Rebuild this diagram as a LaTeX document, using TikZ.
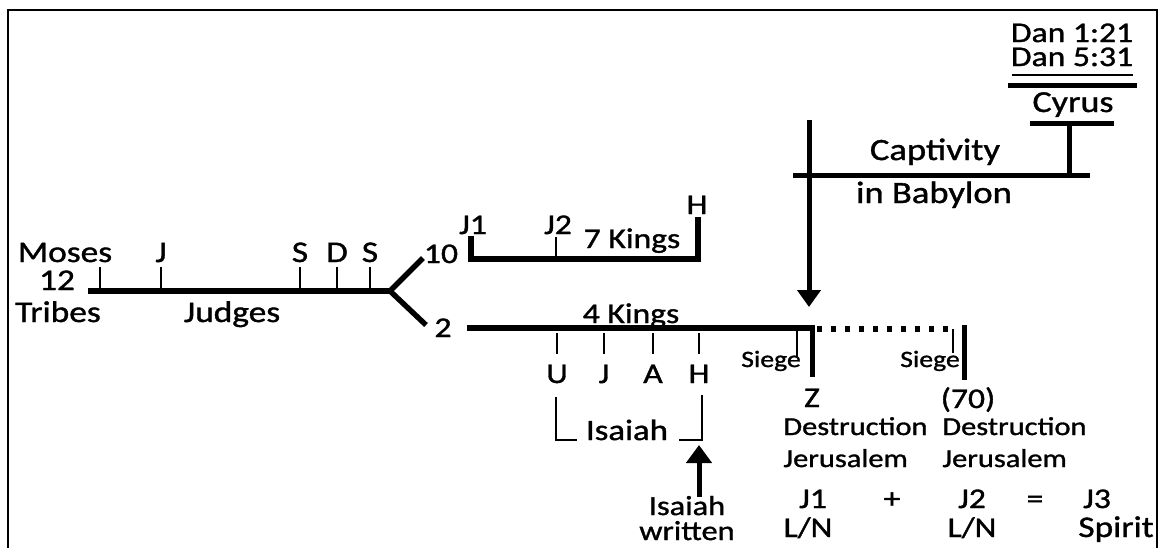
\documentclass[tikz,border=0pt]{standalone}
\usepackage{fontspec}
\setmainfont{Carlito}[FakeStretch=1.18,FakeBold=1.2]
\usetikzlibrary{arrows.meta}
\newcommand{\fsz}[1]{\fontsize{#1}{#1}\selectfont}
\tikzset{
  lbl/.style={anchor=base, inner sep=0pt, font=\fsz{14.25pt}},
  biglbl/.style={lbl, font=\fsz{15pt}},
  destlbl/.style={lbl, anchor=base west, font=\fsz{12.9pt}},
  smalllbl/.style={anchor=base, inner sep=0pt, font=\fsz{11.75pt}},
  midlbl/.style={anchor=base, inner sep=0pt, font=\fsz{13.75pt}},
  bar/.style={line width=2.5pt},
  mainbar/.style={line width=3.3pt},
  tickline/.style={line width=1pt},
  frameline/.style={line width=1.25pt},
  bigarrow/.style={line width=2.5pt, -{Triangle[width=12pt,length=9pt]}},
}
\begin{document}
\begin{tikzpicture}[x=0.5pt,y=-0.5pt]
\useasboundingbox (0,0) rectangle (1162,548);
% frame (open at bottom)
\coordinate (fbl) at (8,548);
\coordinate (ftl) at (8,10);
\coordinate (ftr) at (1157,10);
\coordinate (fbr) at (1157,548);
\draw[frameline] (fbl) -- (ftl) -- (ftr) -- (fbr);

% ---- 12 tribes / judges line
\coordinate (m0) at (88,291);
\coordinate (m1) at (390,291);
\draw[mainbar] (m0) -- (m1);
\foreach \x/\n in {100/a,161/b,300/c,337/d,370/e}{
  \coordinate (jt\n top) at (\x,267);
  \coordinate (jt\n bot) at (\x,291);
  \draw[tickline] (jt\n top) -- (jt\n bot);
}
\node[biglbl] (moses) at (65,262) {Moses};
\node[biglbl] (twelve) at (57,290) {12};
\node[biglbl] (tribes) at (58,322) {Tribes};
\node[biglbl] (jdg) at (161,262) {J};
\node[biglbl] (sam1) at (300,262) {S};
\node[biglbl] (dav) at (337,262) {D};
\node[biglbl] (sol) at (370,262) {S};
\node[biglbl] (judges) at (232,322) {Judges};

% branch
\coordinate (b10) at (423,258);
\coordinate (b2) at (426,325);
\draw[bar, line width=2.7pt] (b10) -- (m1) -- (b2);
\node[lbl] (ten) at (441,263) {10};
\node[lbl] (two) at (443,337) {2};

% ---- northern kingdom: 7 kings
\coordinate (n0) at (471,236);
\coordinate (n1) at (471,259);
\coordinate (n2) at (698,259);
\coordinate (n3) at (698,217);
\draw[bar, line width=2.7pt] (n0) -- (n1) -- (n2) -- (n3);
\coordinate (j2top) at (556,237);
\coordinate (j2bot) at (556,259);
\draw[tickline] (j2top) -- (j2bot);
\node[lbl] (nj1) at (473,234) {J1};
\node[lbl] (nj2) at (558,234) {J2};
\node[lbl] (seven) at (632,248) {7 Kings};
\node[lbl] (nh) at (697,214) {H};

% ---- southern kingdom: 4 kings
\coordinate (s0) at (467,328);
\coordinate (s1) at (812,328);
\draw[line width=3.2pt] (s0) -- (s1);
\node[lbl] (four) at (631,323) {4 Kings};
\foreach \x/\n in {557/u,604/j,653/a,699/h}{
  \coordinate (st\n top) at (\x,333);
  \coordinate (st\n bot) at (\x,354);
  \draw[tickline] (st\n top) -- (st\n bot);
}
\node[lbl] (ku) at (557,383) {U};
\node[lbl] (kj) at (604,383) {J};
\node[lbl] (ka) at (653,383) {A};
\node[lbl] (kh) at (699,383) {H};

% siege 1 and destruction 1
\coordinate (sg1top) at (797,331);
\coordinate (sg1bot) at (797,357);
\draw[tickline] (sg1top) -- (sg1bot);
\coordinate (d1top) at (812,325);
\coordinate (d1bot) at (812,377);
\draw[bar] (d1top) -- (d1bot);
\node[smalllbl] (siege1) at (771,367) {Siege};

% dotted continuation
\coordinate (dt0) at (817,329);
\coordinate (dt1) at (950,329);
\draw[line width=2.6pt, dash pattern=on 2.5pt off 4.5pt] (dt0) -- (dt1);
\coordinate (sg2top) at (953,329);
\coordinate (sg2bot) at (953,353);
\draw[tickline] (sg2top) -- (sg2bot);
\coordinate (d2top) at (964,325);
\coordinate (d2bot) at (964,380);
\draw[bar] (d2top) -- (d2bot);
\node[smalllbl] (siege2) at (930,367) {Siege};

\node[lbl] (z) at (812,407) {Z};
\node[lbl] (seventy) at (968,408) {(70)};
\node[destlbl] (dest1) at (783,435) {Destruction};
\node[destlbl] (jer1) at (783,467) {Jerusalem};
\node[destlbl] (dest2) at (942,435) {Destruction};
\node[destlbl] (jer2) at (942,467) {Jerusalem};

\node[lbl] (eqj1) at (813,508) {J1};
\node[lbl] (eqln1) at (808,537) {L/N};
\node[lbl] (plus) at (892,508) {+};
\node[lbl] (eqj2) at (972,508) {J2};
\node[lbl] (eqln2) at (972,537) {L/N};
\node[lbl] (equals) at (1035,508) {=};
\node[lbl] (eqj3) at (1097,508) {J3};
\node[biglbl] (spirit) at (1116,537) {Spirit};

% Isaiah bracket
\coordinate (ib0) at (556,397);
\coordinate (ib1) at (556,440);
\coordinate (ib2) at (577,440);
\coordinate (ib3) at (679,440);
\coordinate (ib4) at (702,440);
\coordinate (ib5) at (702,395);
\draw[line width=1.2pt] (ib0) -- (ib1) -- (ib2);
\draw[line width=1.2pt] (ib3) -- (ib4) -- (ib5);
\node[lbl, font=\fsz{14.75pt}] (isaiah) at (627,440) {Isaiah};

% Isaiah written arrow
\node[midlbl] (isw1) at (687,515) {Isaiah};
\node[midlbl] (isw2) at (687,540) {written};
\coordinate (iwa0) at (699,497);
\coordinate (iwa1) at (699,445);
\draw[bigarrow, -{Triangle[width=12.5pt,length=9pt]}] (iwa0) -- (iwa1);

% ---- captivity
\coordinate (cv0) at (809,120);
\coordinate (cv1) at (809,307);
\draw[bigarrow, -{Triangle[width=11.5pt,length=8.5pt]}] (cv0) -- (cv1);
\coordinate (ch0) at (793,175);
\coordinate (ch1) at (1090,175);
\draw[bar] (ch0) -- (ch1);
\node[lbl, font=\fsz{15.5pt}] (capt) at (935,160) {Captivity};
\node[lbl, font=\fsz{15.5pt}] (bab) at (934,203) {in Babylon};

% Cyrus
\coordinate (cyv0) at (1069,123);
\coordinate (cyv1) at (1069,175);
\draw[bar] (cyv0) -- (cyv1);
\coordinate (cyh0) at (1030,123);
\coordinate (cyh1) at (1114,123);
\draw[bar] (cyh0) -- (cyh1);
\node[lbl, font=\fsz{15.25pt}] (cyrus) at (1073,112) {Cyrus};
\coordinate (dh0) at (1008,85);
\coordinate (dh1) at (1137,85);
\draw[bar] (dh0) -- (dh1);
\node[lbl] (dan1) at (1072,42) {Dan 1:21};
\node[lbl] (dan5) at (1072,66) {Dan 5:31};
\coordinate (ul0) at (1012,75);
\coordinate (ul1) at (1133,75);
\draw[line width=0.9pt] (ul0) -- (ul1);
\end{tikzpicture}
\end{document}
